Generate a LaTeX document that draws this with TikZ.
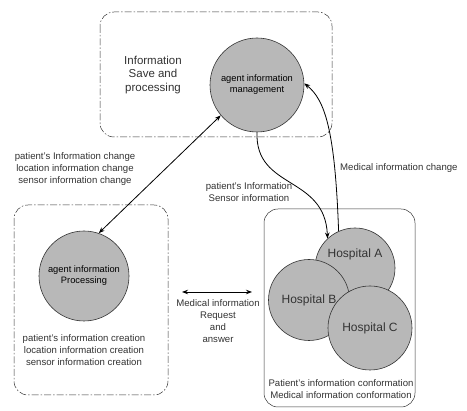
\documentclass[tikz,border=0pt]{standalone}
\usepackage{fontspec}
\setmainfont{Liberation Sans}
\usetikzlibrary{arrows.meta}
\begin{document}
\begin{tikzpicture}[x=1pt,y=-1pt,
  lbl/.style={align=center,font=\fontsize{9.6}{12}\selectfont,inner sep=0pt,text=black!80},
  big/.style={align=center,font=\fontsize{11.5}{13.5}\selectfont,inner sep=0pt,text=black!80},
  agent/.style={circle,draw=black!80,fill=black!28,line width=0.6pt,inner sep=0pt,align=center,font=\fontsize{9.3}{11}\selectfont},
  hosp/.style={circle,draw=black!80,fill=black!28,line width=0.6pt,inner sep=0pt,font=\fontsize{12}{14}\selectfont,text=black!80},
  dashbox/.style={draw=black!80,line width=0.5pt,rounded corners=14pt,dash pattern=on 7pt off 2pt on 1.5pt off 2pt},
  solidbox/.style={draw=black!80,line width=0.5pt,rounded corners=14pt},
  conn/.style={line width=0.8pt,-{Stealth[length=6pt,width=4.5pt]}},
  conntwo/.style={line width=0.8pt,{Stealth[length=6pt,width=4.5pt]}-{Stealth[length=6pt,width=4.5pt]}},
]
\useasboundingbox (0,0) rectangle (467,411);
\fill[white] (0,0) rectangle (467,411);

% boxes
\draw[dashbox] (100,12) rectangle (332,137);
\draw[dashbox] (14,205) rectangle (168,395);
\draw[solidbox] (264,209) rectangle (415,407);

% agent circles
\node[agent,minimum size=94pt] (mgmt) at (257,85) {agent information\\management};
\node[agent,minimum size=90pt] (proc) at (84,276) {agent information\\Processing};

% hospitals
\node[hosp,minimum size=80pt,label={[font=\fontsize{12}{14}\selectfont,text=black!80,yshift=14pt]center:Hospital A}] (hA) at (355,268) {};
\node[hosp,minimum size=81pt] (hB) at (309,300) {Hospital B};
\node[hosp,minimum size=84pt] (hC) at (370,328) {Hospital C};

% texts
\node[big] (save) at (153,75) {Information\\Save and\\processing};
\node[lbl] (chg) at (75,169) {patient's Information change\\location information change\\sensor information change};
\node[lbl] (crt) at (84,350) {patient's information creation\\location information creation\\sensor information creation};
\node[lbl] (req) at (218,321) {Medical information\\Request\\and\\answer};
\node[lbl] (psi) at (249,192) {patient's Information\\Sensor information};
\node[lbl,anchor=west] (mic) at (340,168) {Medical information change};
\node[lbl] (conf) at (341,389) {Patient's information conformation\\Medical information conformation};

% connectors
\draw[conntwo] (proc.71) -- (mgmt.220);
\draw[conn] (mgmt.south) .. controls (255,190) and (325,175) .. (hA.133);
\draw[conn] (hA.114) .. controls (335,130) and (325,100) .. (mgmt.2);
\coordinate (rqL) at (182,292);
\coordinate (rqR) at (252,292);
\draw[conntwo] (rqL) -- (rqR);
\end{tikzpicture}
\end{document}
